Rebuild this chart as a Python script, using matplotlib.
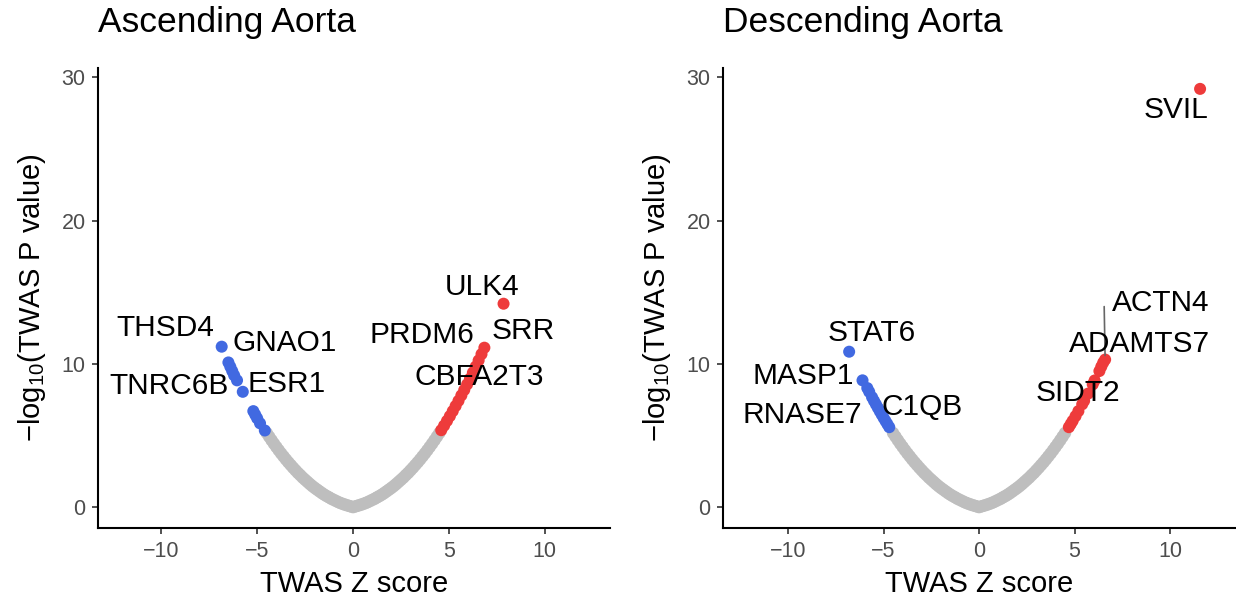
import matplotlib
matplotlib.use("Agg")
import matplotlib.pyplot as plt

plt.rcParams['font.family'] = ['Liberation Sans', 'DejaVu Sans']
plt.rcParams['mathtext.fontset'] = 'custom'
plt.rcParams['mathtext.rm'] = 'Liberation Sans'
plt.rcParams['mathtext.it'] = 'Liberation Sans:italic'

GREY = "#BEBEBE"
BLUE = "#4169E1"
RED = "#EE3B3B"

# === Ascending aorta ===
asc_grey_z = [-4.5, -4.375, -4.25, -4.125, -4.0, -3.875, -3.75, -3.625, -3.5, -3.375,
              -3.25, -3.125, -3.0, -2.875, -2.75, -2.625, -2.5, -2.375, -2.25, -2.125,
              -2.0, -1.875, -1.75, -1.625, -1.5, -1.375, -1.25, -1.125, -1.0, -0.875,
              -0.75, -0.625, -0.5, -0.375, -0.25, -0.125, 0.0, 0.125, 0.25, 0.375, 0.5,
              0.625, 0.75, 0.875, 1.0, 1.125, 1.25, 1.375, 1.5, 1.625, 1.75, 1.875, 2.0,
              2.125, 2.25, 2.375, 2.5, 2.625, 2.75, 2.875, 3.0, 3.125, 3.25, 3.375, 3.5,
              3.625, 3.75, 3.875, 4.0, 4.125, 4.25, 4.375, 4.5]
asc_grey_p = [5.17, 4.92, 4.67, 4.43, 4.20, 3.97, 3.75, 3.54, 3.33, 3.13,
              2.94, 2.75, 2.57, 2.39, 2.23, 2.06, 1.91, 1.76, 1.61, 1.47,
              1.34, 1.22, 1.10, 0.98, 0.87, 0.77, 0.68, 0.58, 0.50, 0.42,
              0.34, 0.27, 0.21, 0.15, 0.10, 0.05, 0.0, 0.05, 0.10, 0.15, 0.21,
              0.27, 0.34, 0.42, 0.50, 0.58, 0.68, 0.77, 0.87, 0.98, 1.10, 1.22, 1.34,
              1.47, 1.61, 1.76, 1.91, 2.06, 2.23, 2.39, 2.57, 2.75, 2.94, 3.13, 3.33,
              3.54, 3.75, 3.97, 4.20, 4.43, 4.67, 4.92, 5.17]
asc_down_z = [-6.85, -6.5, -6.4, -6.3, -6.2, -6.05, -5.75, -5.2, -5.1, -5.0, -4.85, -4.6]
asc_down_p = [11.2, 10.1, 9.8, 9.5, 9.2, 8.85, 8.05, 6.7, 6.45, 6.2, 5.85, 5.35]
asc_up_z = [4.6, 4.75, 4.9, 5.05, 5.2, 5.35, 5.5, 5.65, 5.8, 5.95, 6.1, 6.25, 6.4, 6.55,
            6.7, 6.85, 7.85]
asc_up_p = [5.37, 5.69, 6.02, 6.35, 6.70, 7.06, 7.42, 7.80, 8.18, 8.57, 8.97, 9.39, 9.81,
            10.24, 10.68, 11.13, 14.2]
asc_genes = ["THSD4", "GNAO1", "TNRC6B", "ESR1", "ULK4", "PRDM6", "SRR", "CBFA2T3"]

# === Descending aorta ===
desc_grey_z = list(asc_grey_z)
desc_grey_p = [5.17, 4.92, 4.67, 4.43, 4.20, 3.97, 3.75, 3.54, 3.33, 3.13,
               2.94, 2.75, 2.57, 2.39, 2.23, 2.06, 1.91, 1.76, 1.61, 1.47,
               1.34, 1.22, 1.10, 0.98, 0.87, 0.77, 0.68, 0.58, 0.50, 0.42,
               0.34, 0.27, 0.21, 0.15, 0.10, 0.05, 0.0, 0.05, 0.10, 0.15, 0.21,
               0.27, 0.34, 0.42, 0.50, 0.58, 0.68, 0.77, 0.87, 0.98, 1.10, 1.22, 1.34,
               1.47, 1.61, 1.76, 1.91, 2.06, 2.23, 2.39, 2.57, 2.75, 2.94, 3.13, 3.33,
               3.54, 3.75, 3.97, 4.20, 4.43, 4.67, 4.92, 5.17]
desc_down_z = [-6.8, -6.1, -5.85, -5.75, -5.6, -5.5, -5.4, -5.3, -5.2, -5.1, -5.0, -4.9,
               -4.8, -4.7]
desc_down_p = [10.85, 8.85, 8.31, 8.05, 7.67, 7.42, 7.18, 6.94, 6.70, 6.47, 6.24, 6.02,
               5.80, 5.58]
desc_up_z = [4.7, 4.8, 4.9, 5.05, 5.2, 5.4, 5.5, 5.7, 5.95, 6.05, 6.3, 6.4, 6.5, 6.6, 11.57]
desc_up_p = [5.58, 5.80, 6.02, 6.35, 6.70, 7.18, 7.42, 7.92, 8.57, 8.84, 9.5, 9.81, 10.09,
             10.3, 29.2]
desc_genes = ["STAT6", "MASP1", "RNASE7", "C1QB", "ACTN4", "ADAMTS7", "SIDT2", "SVIL"]

# label placement (layout only)
asc_label_pos = {"THSD4": (-9.8, 12.5), "GNAO1": (-3.55, 11.45), "TNRC6B": (-9.6, 8.45),
                 "ESR1": (-3.45, 8.6), "ULK4": (6.75, 15.4), "PRDM6": (3.6, 12.0),
                 "SRR": (8.9, 12.3), "CBFA2T3": (6.6, 9.1)}
desc_label_pos = {"STAT6": (-5.6, 12.15), "MASP1": (-9.2, 9.15), "RNASE7": (-9.25, 6.45),
                  "C1QB": (-3.0, 7.0), "ACTN4": (9.5, 14.25), "ADAMTS7": (8.4, 11.4),
                  "SIDT2": (5.2, 7.95), "SVIL": (10.3, 27.7)}

fig = plt.figure(figsize=(12.36, 6.02), dpi=100)
ax1 = fig.add_axes([0.0793, 0.1229, 0.4142, 0.7642])
ax2 = fig.add_axes([0.585, 0.1229, 0.415, 0.7642])


def volcano(ax, title, gz, gp, dz, dp, uz, up, genes, label_pos, xlim):
    ax.scatter(gz, gp, s=80, color=GREY, edgecolors='none', zorder=2)
    ax.scatter(dz, dp, s=75, color=BLUE, edgecolors='none', zorder=3)
    ax.scatter(uz, up, s=75, color=RED, edgecolors='none', zorder=3)
    for g in genes:
        x, y = label_pos[g]
        ax.text(x, y, g, fontsize=21.5, ha='center', va='center', color='black', zorder=5)
    ax.set_xlim(xlim)
    ax.set_ylim(-1.46, 30.66)
    ax.set_xticks([-10, -5, 0, 5, 10])
    ax.set_xticklabels(["\u221210", "\u22125", "0", "5", "10"])
    ax.set_yticks([0, 10, 20, 30])
    ax.spines['top'].set_visible(False)
    ax.spines['right'].set_visible(False)
    for sp in ('left', 'bottom'):
        ax.spines[sp].set_linewidth(1.5)
        ax.spines[sp].set_color('black')
    ax.tick_params(length=4, width=1.2, color='#333333', labelsize=15.5,
                   labelcolor='#4D4D4D', pad=5)
    ax.set_xlabel("TWAS Z score", fontsize=21, labelpad=6)
    ax.set_ylabel("\u2212log$_{10}$(TWAS P value)", fontsize=21, labelpad=10)
    ax.set_title(title, loc='left', fontsize=25.5, pad=26)


volcano(ax1, "Ascending Aorta", asc_grey_z, asc_grey_p, asc_down_z, asc_down_p,
        asc_up_z, asc_up_p, asc_genes, asc_label_pos, (-13.3, 13.4))
volcano(ax2, "Descending Aorta", desc_grey_z, desc_grey_p, desc_down_z, desc_down_p,
        desc_up_z, desc_up_p, desc_genes, desc_label_pos, (-13.4, 13.45))

# ACTN4 connector segment (label sits away from its point)
ax2.annotate("", xy=(desc_up_z[-2], desc_up_p[-2]), xytext=(6.55, 14.0),
             arrowprops=dict(arrowstyle='-', color='#666666', lw=1.2,
                             shrinkA=0, shrinkB=3), zorder=4)

plt.savefig("out.png", dpi=100)
